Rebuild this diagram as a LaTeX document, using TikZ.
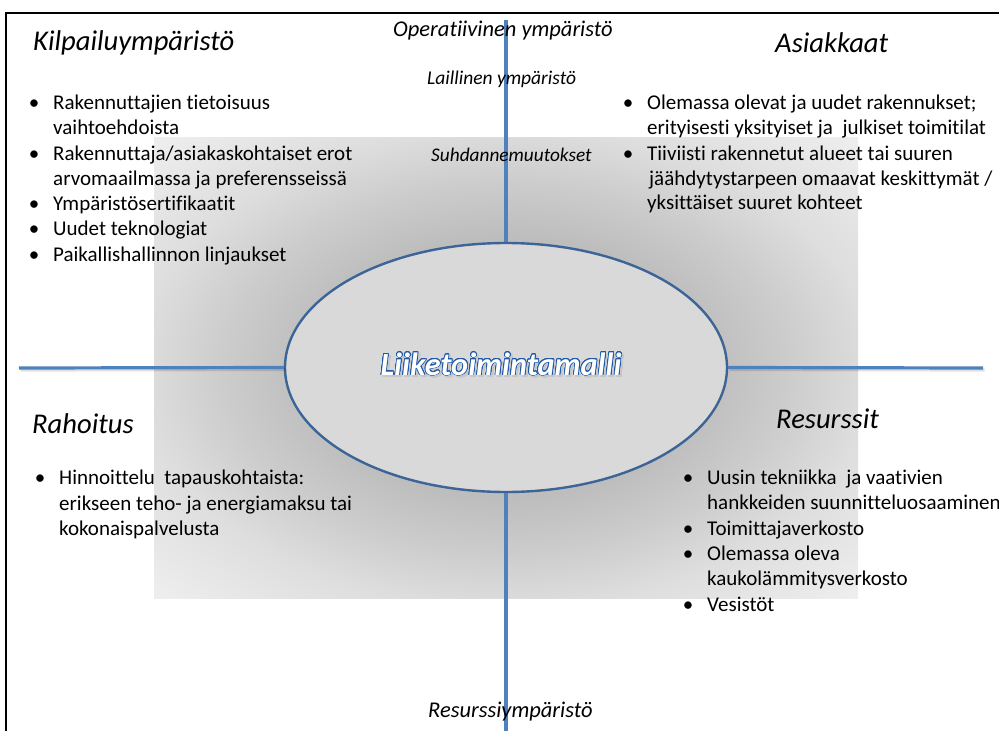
\documentclass[tikz,border=0pt]{standalone}
\usepackage{fontspec}
\setmainfont{Carlito}[Ligatures={NoCommon,NoRequired,NoContextual}]
\usepackage[copies]{contour}
\contourlength{0.7pt}
\contournumber{24}
\usetikzlibrary{shapes.geometric}
\definecolor{axisblue}{HTML}{4F81BD}
\definecolor{ellblue}{HTML}{3C6496}
\definecolor{ellfill}{HTML}{D9D9D9}
\definecolor{txtblue}{HTML}{1F5AAA}
\pgfdeclareradialshading{envshade}{\pgfpointorigin}{color(0bp)=(black!29); color(14bp)=(black!26); color(20bp)=(black!20); color(26bp)=(black!13); color(36bp)=(black!6); color(50bp)=(black!6)}
\begin{document}
\begin{tikzpicture}[x=1pt,y=-1pt,
  bodytext/.style={font=\fontsize{21}{25}\selectfont, anchor=base west, inner sep=0},
  bulletmark/.style={font=\fontsize{21}{25}\selectfont, anchor=base, inner sep=0},
  titletext/.style={font=\fontsize{28.6}{32}\selectfont\itshape, anchor=base west, inner sep=0},
  envlabel/.style={font=\fontsize{22.5}{26}\selectfont\itshape, anchor=base west, inner sep=0},
  axisline/.style={draw=axisblue, line width=3.2pt},
  axisshadow/.style={draw=black, opacity=0.12, line width=3.2pt}]
\useasboundingbox (0,0) rectangle (999,731);
% frame
\draw[line width=2pt] (6,740) -- (6,13) -- (1010,13);
% shaded area
\shade[shading=envshade] (154,137) rectangle (858,598);
% central ellipse
\node[ellipse, draw=ellblue, line width=2.4pt, fill=ellfill, minimum width=442pt, minimum height=249pt, inner sep=0] (ell) at (506,367.5) {};
% axes
\coordinate (vt) at (506,20);
\coordinate (vb) at (506,735);
\coordinate (hl) at (19,368);
\coordinate (hr) at (983,368);
\draw[axisshadow] ([xshift=1.5pt,yshift=-2pt]hl) -- ([xshift=1.5pt,yshift=-2pt]ell.west);
\draw[axisshadow] ([xshift=1.5pt,yshift=-2pt]ell.east) -- ([xshift=1.5pt,yshift=-2pt]hr);
\draw[axisline] (vt) -- (ell.north);
\draw[axisline] (ell.south) -- (vb);
\draw[axisline] (hl) -- (ell.west);
\draw[axisline] (ell.east) -- (hr);
% centre text
\node[inner sep=0, anchor=base, font=\fontsize{32.3}{36}\selectfont\bfseries\itshape] (shadow) at (503,377) {\contour{black!22}{\textcolor{black!22}{Liiketoimintamalli}}};
\node[inner sep=0, anchor=base, font=\fontsize{32.3}{36}\selectfont\bfseries\itshape] (core) at (501,375) {\contour{txtblue}{\textcolor{white}{Liiketoimintamalli}}};
% titles
\node[titletext] (t1) at (33,50) {Kilpailuympäristö};
\node[titletext] (t2) at (775,52) {Asiakkaat};
\node[titletext] (t3) at (32,433) {Rahoitus};
\node[titletext] (t4) at (776,428) {Resurssit};
% environment labels
\node[envlabel] (e1) at (393,36) {Operatiivinen ympäristö};
\node[envlabel, font=\fontsize{19.5}{23}\selectfont\itshape] (e2) at (427,84) {Laillinen ympäristö};
\node[envlabel, font=\fontsize{19.3}{23}\selectfont\itshape] (e3) at (431,161) {Suhdannemuutokset};
\node[envlabel] (e4) at (428,717) {Resurssiympäristö};
% Kilpailuymparisto list
\node[bulletmark] (b11) at (34,109) {•};
\node[bodytext] (l11) at (53,109) {Rakennuttajien tietoisuus};
\node[bodytext] (l12) at (53,134.5) {vaihtoehdoista};
\node[bulletmark] (b12) at (34,160) {•};
\node[bodytext] (l13) at (53,160) {Rakennuttaja/asiakaskohtaiset erot};
\node[bodytext] (l14) at (53,185) {arvomaailmassa ja preferensseissä};
\node[bulletmark] (b13) at (34,210) {•};
\node[bodytext] (l15) at (53,210) {Ympäristösertifikaatit};
\node[bulletmark] (b14) at (34,235.5) {•};
\node[bodytext] (l16) at (53,235.5) {Uudet teknologiat};
\node[bulletmark] (b15) at (34,261) {•};
\node[bodytext] (l17) at (53,261) {Paikallishallinnon linjaukset};
% Asiakkaat list
\node[bulletmark] (b21) at (628,109) {•};
\node[bodytext] (l21) at (647,109) {Olemassa olevat ja uudet rakennukset;};
\node[bodytext] (l22) at (647,134) {erityisesti yksityiset ja\ \ julkiset toimitilat};
\node[bulletmark] (b22) at (628,160) {•};
\node[bodytext] (l23) at (647,160) {Tiiviisti rakennetut alueet tai suuren};
\node[bodytext] (l24) at (649,185) {jäähdytystarpeen omaavat keskittymät /};
\node[bodytext] (l25) at (647,209.5) {yksittäiset suuret kohteet};
% Rahoitus list
\node[bulletmark] (b31) at (40,484) {•};
\node[bodytext] (l31) at (59,484) {Hinnoittelu\ \ tapauskohtaista:};
\node[bodytext] (l32) at (59,510) {erikseen teho- ja energiamaksu tai};
\node[bodytext] (l33) at (59,535.5) {kokonaispalvelusta};
% Resurssit list
\node[bulletmark] (b41) at (688,484) {•};
\node[bodytext] (l41) at (707,484) {Uusin tekniikka\ \ ja vaativien};
\node[bodytext] (l42) at (707,509.5) {hankkeiden suunnitteluosaaminen};
\node[bulletmark] (b42) at (688,535) {•};
\node[bodytext] (l43) at (707,535) {Toimittajaverkosto};
\node[bulletmark] (b43) at (688,560) {•};
\node[bodytext] (l44) at (707,560) {Olemassa oleva};
\node[bodytext] (l45) at (707,585.5) {kaukolämmitysverkosto};
\node[bulletmark] (b44) at (688,611) {•};
\node[bodytext] (l46) at (707,611) {Vesistöt};
\end{tikzpicture}
\end{document}
